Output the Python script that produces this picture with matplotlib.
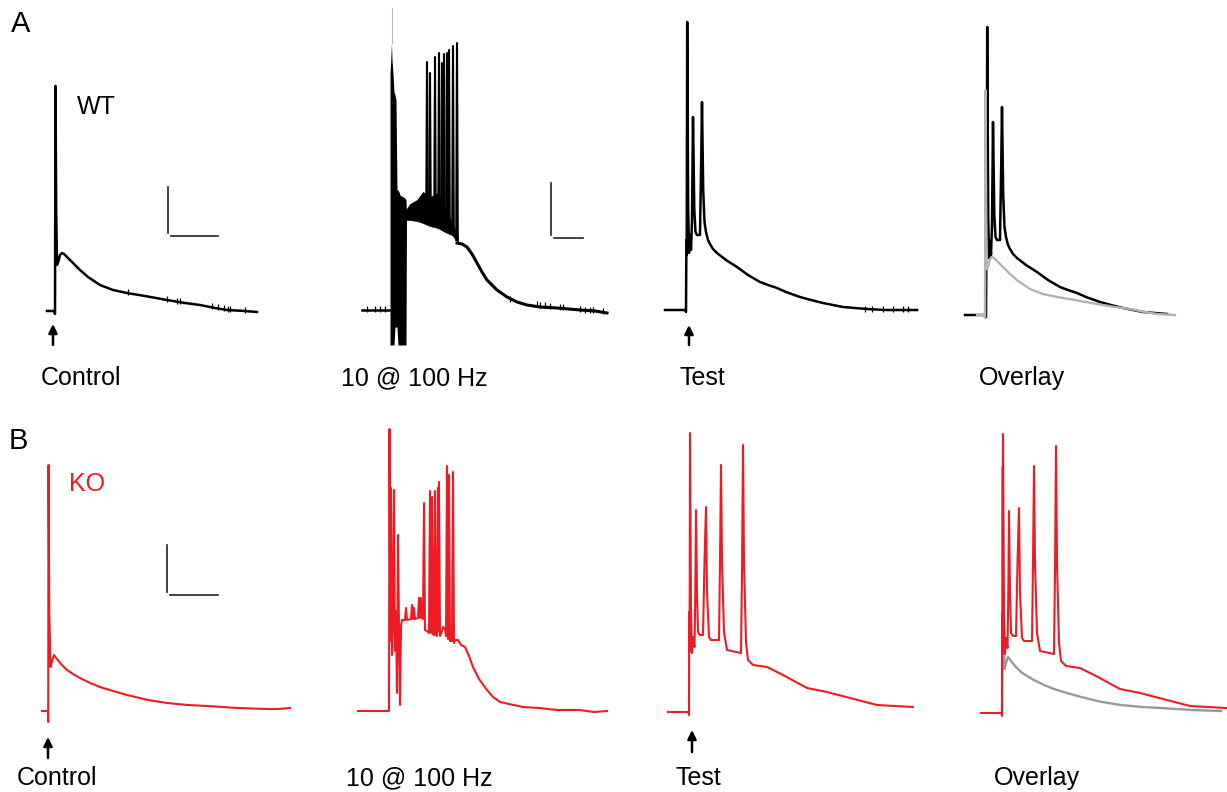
import numpy as np
import matplotlib
matplotlib.use("Agg")
import matplotlib.pyplot as plt

plt.rcParams['font.family'] = ['Liberation Sans', 'DejaVu Sans']

RED = '#ed1c24'
W, H = 1227, 792

# trace units: t = time after stimulus, v = potential above rest (arbitrary units)

# ---------------- WT (row A) ----------------
wt_ctrl_t = [-8, -1, 0, 0.5, 1.2, 2, 3.5, 5, 7, 9, 12, 18, 25, 33, 45, 58, 72, 90, 112, 130, 145, 160, 172, 190, 202]
wt_ctrl_v = [0, 0, -3, 225, 100, 46, 50, 56, 58, 57, 54, 48, 41, 34, 26, 21, 18, 15, 11, 8, 6, 3, 1, 0, -1]
wt_ctrl_tick_t = [73, 112, 122, 125, 157, 163, 169, 173, 175, 190]
wt_ctrl_tick_v = [18, 11, 9, 9, 4, 3, 2, 1, 1, 0]

# 10 @ 100 Hz train
wt_pre_t = [-28, -1]
wt_pre_v = [0, 0]
wt_pre_tick_t = [-23, -15, -10, -5]
wt_burst_t = [0, 0.5, 1.5, 2, 3, 4, 5, 6, 7, 8, 9, 10, 15, 16, 16.5]
wt_burst_hi = [237, 245, 267, 250, 237, 218, 215, 210, 120, 120, 118, 115, 112, 110, 96]
wt_burst_lo = [-35, -35, -35, -35, -35, -35, -17, -17, -17, -35, -35, -35, -35, -35, 90]
wt_artifact_t = 2
wt_artifact_v = 302
wt_plat_t = [16, 20, 27, 33, 40, 48, 55, 62, 68]
wt_plat_hi = [100, 106, 110, 118, 113, 117, 100, 88, 72]
wt_plat_lo = [90, 90, 89, 87, 84, 82, 78, 75, 68]
wt_spike_t = [37, 40, 45, 49, 52, 54, 57, 59, 63, 67]
wt_spike_v = [248, 237, 253, 257, 247, 256, 257, 260, 264, 267]
wt_spike_base = [88, 87, 85, 84, 83, 82, 80, 79, 76, 70]
wt_decay_t = [67, 72, 77, 82, 87, 92, 97, 107, 117, 127, 137, 150, 167, 190, 205, 217]
wt_decay_v = [67, 66, 63, 56, 47, 38, 30, 20, 13, 8, 5, 3, 2, 0, -1, -3]
wt_post_tick_t = [120, 147, 150, 155, 160, 170, 173, 190, 195, 200, 203, 213]
wt_post_tick_v = [10, 5, 4, 4, 3, 2, 2, 0, -1, -1, -1, -2]

wt_test_t = [-21, -0.5, 0, 0.4, 0.7, 1.2, 2.2, 3, 4, 5, 6, 7, 8.3, 9.5, 11, 14, 15.2, 16, 17.2, 18.5,
             20, 22, 24, 27, 31, 40, 51, 62, 74, 82, 91, 100, 114, 125, 137, 157, 181, 200, 231]
wt_test_v = [0, 0, -2, 70, 55, 288, 100, 57, 75, 60, 90, 193, 100, 78, 75, 75, 150, 208, 120, 88,
             78, 70, 66, 61, 57, 50, 43, 35, 28, 25, 22, 18, 13, 10, 7, 3, 1, 0, 0]
wt_test_tick_t = [179, 186, 197, 207, 217, 222]
wt_overlay_end = 194

# ---------------- KO (row B) ----------------
ko_ctrl_t = [-6, 0, 0.2, 0.5, 1.3, 2.5, 4, 6, 9, 13, 19, 25, 32, 42, 52, 65, 79, 100, 119, 140, 159, 190, 219, 230, 242]
ko_ctrl_v = [0, 0, -11, 246, 100, 44, 50, 56, 52, 47, 41, 37, 33, 28, 24, 20, 16, 11, 8, 6, 5, 3, 2, 2, 3]

ko_train_t = [-31, -1, 0, 0.5, 1.3, 2, 3, 4, 5, 6, 7, 8, 9, 10, 11, 12, 13,
              16, 17, 18, 22, 23, 24, 25, 26, 29, 30, 31, 31.5, 32.5, 34,
              35, 36, 38, 40, 41, 42, 43, 44, 45, 46, 47, 48, 49, 49.5, 50, 51, 53, 54, 56, 57,
              58, 59, 60, 61, 63, 64, 65,
              66, 69, 72, 76, 80, 84, 90, 98, 104, 111, 120, 134, 150, 168, 190, 205, 218]
ko_train_v = [0, 0, 0, 282, 70, 223, 56, 90, 221, 60, 100, 18, 176, 80, 6, 85, 91,
              91, 103, 91, 92, 106, 92, 103, 92, 93, 113, 93, 113, 94, 92,
              208, 81, 80, 78, 220, 78, 214, 77, 76, 220, 76, 75, 223, 80, 229, 75, 80, 84, 82, 75,
              245, 72, 236, 70, 70, 239, 68,
              71, 71, 66, 64, 55, 44, 32, 21, 14, 9, 7, 4, 3, 1, 1, -1, 0]

ko_test_t = [-21, -0.5, 0, 0.2, 0.6, 1, 2, 3, 4, 5.5, 6.3, 7, 8, 9, 11, 14, 15.5, 17, 18, 20, 22, 30,
             31, 32, 33, 35, 38, 52, 53, 54, 55, 57, 59, 64, 78, 94, 118, 138, 161, 188, 224]
ko_test_v = [0, 0, -3, 100, 60, 279, 100, 59, 75, 65, 120, 202, 120, 80, 77, 77, 150, 205, 120, 75, 72, 72,
             150, 247, 150, 80, 62, 59, 140, 267, 150, 70, 52, 47, 45, 37, 24, 20, 14, 7, 5]
ko_overlay_end = 225

# ---------------- layout (stimulus x, baseline y in pixels) ----------------
fig = plt.figure(figsize=(W / 100, H / 100), dpi=100)


def panel(name, x0, y0):
    ax = fig.add_axes([0, 0, 1, 1], label=name)
    ax.set_xlim(-x0, W - x0)
    ax.set_ylim(y0 - H, y0)
    ax.axis('off')
    ax.patch.set_alpha(0)
    return ax


def arrow(ax, t, tip, tail):
    ax.annotate('', xy=(t, tip), xytext=(t, tail),
                arrowprops=dict(arrowstyle='-|>', color='k', lw=1.8, mutation_scale=13,
                                shrinkA=0, shrinkB=0))


def scalebar(ax, t, v, vlen, hlen):
    ax.plot([t, t], [v, v + vlen], color='#222222', lw=1.2)
    ax.plot([t + 3, t + 3 + hlen], [v - 3, v - 3], color='#222222', lw=1.2)


def ticks(ax, tt, vv, color):
    ax.vlines(tt, np.array(vv) - 2, np.array(vv) + 4, color=color, lw=0.9)


def overlay_part(t, v, t_end):
    # part of a trace shown in the overlay: up to t_end, without the stimulus dip
    t = np.array(t)
    v = np.array(v)
    keep = (t <= t_end) & (v >= -3)
    return t[keep], v[keep]


# A1 control
ax = panel('a1', 55, 311)
ax.plot(wt_ctrl_t, wt_ctrl_v, color='k', lw=1.8)
ticks(ax, wt_ctrl_tick_t, wt_ctrl_tick_v, 'k')
arrow(ax, -2, -13, -34)
scalebar(ax, 113, 78, 46, 47)

# A2 train
ax = panel('a2', 390, 310)
ax.plot(wt_pre_t, wt_pre_v, color='k', lw=1.8)
ticks(ax, wt_pre_tick_t, [0] * len(wt_pre_tick_t), 'k')
ax.fill_between(wt_burst_t, wt_burst_lo, wt_burst_hi, color='k', lw=0)
ax.plot([wt_artifact_t, wt_artifact_t], [wt_burst_hi[2], wt_artifact_v], color='#bbbbbb', lw=0.8)
ax.fill_between(wt_plat_t, wt_plat_lo, wt_plat_hi, color='k', lw=0.5)
for ts, vs, vb in zip(wt_spike_t, wt_spike_v, wt_spike_base):
    ax.plot([ts - 0.8, ts, ts + 0.8], [vb, vs, vb], color='k', lw=1.5)
ax.plot(wt_decay_t, wt_decay_v, color='k', lw=2.2)
ticks(ax, wt_post_tick_t, wt_post_tick_v, 'k')
scalebar(ax, 161, 75, 52, 29)

# A3 test
ax = panel('a3', 686, 310)
ax.plot(wt_test_t, wt_test_v, color='k', lw=1.8)
ticks(ax, wt_test_tick_t, [0] * len(wt_test_tick_t), 'k')
arrow(ax, 3, -15, -35)

# A4 overlay
ax = panel('a4', 986, 315)
tt, vv = overlay_part(wt_test_t, wt_test_v, wt_overlay_end)
ax.plot(tt, vv, color='k', lw=1.8)
tc, vc = overlay_part(wt_ctrl_t, wt_ctrl_v, wt_overlay_end)
ax.plot(tc - 1, vc, color='#b3b3b3', lw=1.7)

# B1 control
ax = panel('b1', 48, 711)
ax.plot(ko_ctrl_t, ko_ctrl_v, color=RED, lw=1.5)
arrow(ax, 0, -26, -47)
scalebar(ax, 119, 119, 47, 48)

# B2 train
ax = panel('b2', 389, 711)
ax.plot(ko_train_t, ko_train_v, color=RED, lw=1.5)

# B3 test
ax = panel('b3', 689, 712)
ax.plot(ko_test_t, ko_test_v, color=RED, lw=1.5)
arrow(ax, 3, -18, -40)

# B4 overlay
ax = panel('b4', 1002, 713)
tc, vc = overlay_part(ko_ctrl_t, ko_ctrl_v, ko_overlay_end)
ax.plot(tc, vc, color='#999999', lw=1.7)
tt, vv = overlay_part(ko_test_t, ko_test_v, ko_overlay_end)
ax.plot(tt, vv, color=RED, lw=1.5)


# text
def ftext(x, y, s, size=18, color='k'):
    fig.text(x / W, 1 - y / H, s, fontsize=size, color=color, ha='left', va='center')


ftext(11, 24, 'A', 21)
ftext(9, 441, 'B', 21)
ftext(77, 107, 'WT')
ftext(69, 484, 'KO', color=RED)
for x, s in zip([41, 341, 679, 979], ['Control', '10 @ 100 Hz', 'Test', 'Overlay']):
    ftext(x, 378, s)
for x, s in zip([17, 346, 676, 994], ['Control', '10 @ 100 Hz', 'Test', 'Overlay']):
    ftext(x, 778, s)

fig.savefig('out.png', dpi=100, facecolor='white')
